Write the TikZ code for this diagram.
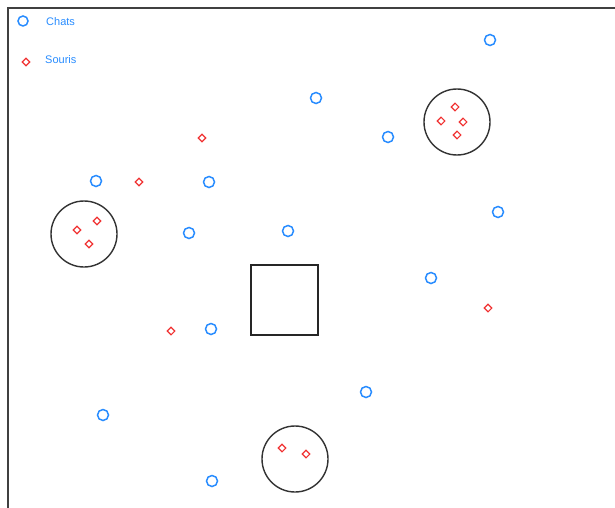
\documentclass[tikz,border=0pt]{standalone}
\usepackage{fontspec}
\setmainfont{Liberation Sans}
\usetikzlibrary{shapes.geometric}
\definecolor{chatblue}{RGB}{40,140,255}
\definecolor{sourisred}{RGB}{240,50,50}
\begin{document}
\begin{tikzpicture}[x=1pt,y=-1pt,
  chat/.style={draw=chatblue, line width=1.5pt, circle, inner sep=0pt, minimum size=11pt},
  souris/.style={draw=sourisred, line width=1.1pt, diamond, inner sep=0pt, minimum size=8pt, shape aspect=1},
  zone/.style={draw=black!80, line width=1.4pt, circle, inner sep=0pt, minimum size=66pt},
  legtext/.style={text=chatblue, font=\fontsize{11}{12}\selectfont, anchor=west, inner sep=0pt}]
\useasboundingbox (0,0) rectangle (615,508);
\coordinate (fa) at (8,508);
\coordinate (fb) at (8,8);
\coordinate (fc) at (615,8);
\draw[black!75, line width=1.6pt] (fa) -- (fb) -- (fc);
% legend
\node[chat, minimum size=10pt] (lc) at (23,21) {};
\node[legtext] (lct) at (46,22) {Chats};
\node[souris] (ls) at (26,62) {};
\node[legtext] (lst) at (45,60) {Souris};
% zones
\node[zone] (z1) at (457,122) {};
\node[zone] (z2) at (84,234) {};
\node[zone] (z3) at (295,459) {};
% square
\node[draw=black!85, line width=1.8pt, minimum width=67pt, minimum height=70pt, inner sep=0pt] (sq) at (284.5,300) {};
% chats
\foreach \n/\x/\y in {c1/490/40, c2/316/98, c3/388/137, c4/96/181, c5/209/182, c6/498/212, c7/189/233, c8/288/231, c9/431/278, c10/211/329, c11/366/392, c12/103/415, c13/212/481}
  \node[chat] (\n) at (\x,\y) {};
% souris
\foreach \n/\x/\y in {s1/202/138, s2/139/182, s3/171/331, s4/488/308, s5/455/107, s6/441/121, s7/463/122, s8/457/135, s9/97/221, s10/77/230, s11/89/244, s12/282/448, s13/306/454}
  \node[souris] (\n) at (\x,\y) {};
\end{tikzpicture}
\end{document}
